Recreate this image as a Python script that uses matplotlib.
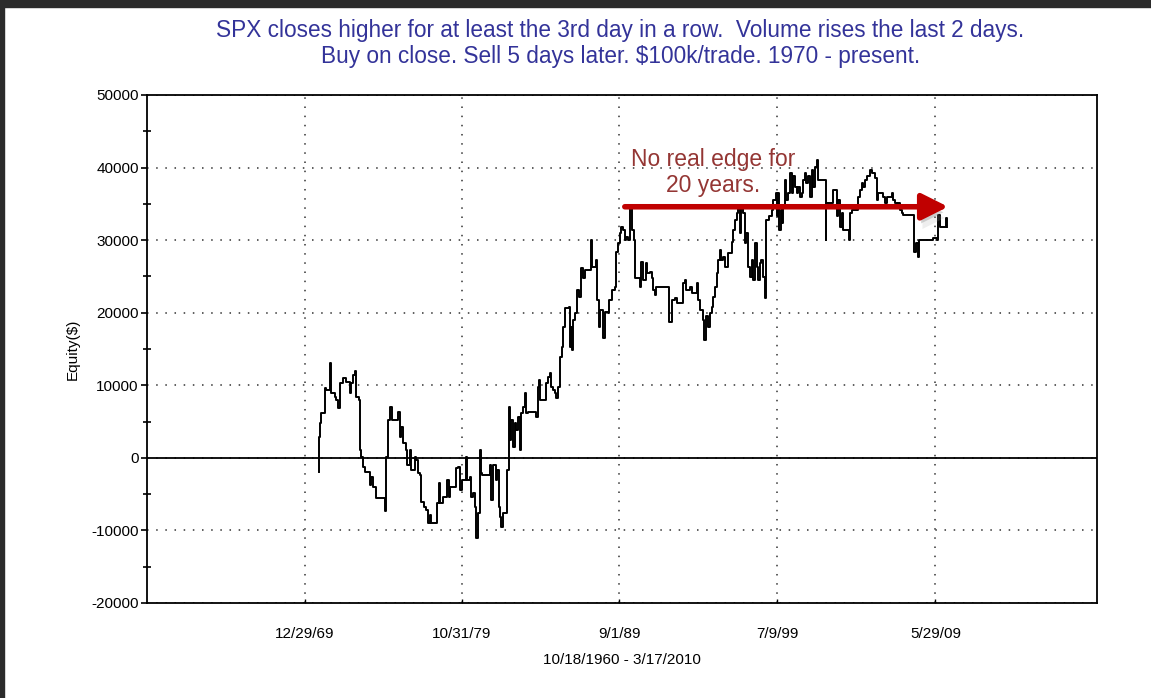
import datetime
import matplotlib
matplotlib.use("Agg")
import matplotlib.pyplot as plt
import matplotlib.patheffects as pe
from matplotlib.patches import Rectangle
from matplotlib.ticker import MultipleLocator

plt.rcParams['font.family'] = ['Liberation Sans', 'DejaVu Sans']
plt.rcParams['axes.unicode_minus'] = False

# equity curve (decimal year, equity $)
years = [1970.87, 1970.88, 1970.94, 1971.04, 1971.25, 1971.35, 1971.60, 1971.67, 1971.88, 1971.98,
         1972.08, 1972.19, 1972.40, 1972.60, 1972.81, 1972.92, 1973.02, 1973.17, 1973.23, 1973.40,
         1973.44, 1973.54, 1973.65, 1973.75, 1974.06, 1974.17, 1974.27, 1974.44, 1975.00, 1975.06,
         1975.10, 1975.21, 1975.35, 1975.44, 1975.83, 1975.94, 1976.04, 1976.15, 1976.31, 1976.40,
         1976.56, 1976.67, 1976.88, 1976.98, 1977.08, 1977.19, 1977.29, 1977.44, 1977.56, 1977.71,
         1977.81, 1977.92, 1978.27, 1978.38, 1978.48, 1978.65, 1978.90, 1979.02, 1979.06, 1979.44,
         1979.58, 1979.69, 1979.85, 1980.10, 1980.17, 1980.31, 1980.42, 1980.52, 1980.63, 1980.69,
         1980.83, 1980.94, 1981.04, 1981.10, 1981.56, 1981.67, 1981.77, 1981.94, 1982.02, 1982.15,
         1982.23, 1982.29, 1982.40, 1982.65, 1982.75, 1982.81, 1982.92, 1983.02, 1983.13, 1983.23,
         1983.33, 1983.44, 1983.50, 1983.65, 1983.75, 1983.85, 1983.96, 1984.44, 1984.58, 1984.65,
         1984.69, 1985.06, 1985.21, 1985.31, 1985.42, 1985.52, 1985.63, 1985.73, 1985.83, 1985.94,
         1985.98, 1986.10, 1986.15, 1986.25, 1986.50, 1986.56, 1986.67, 1986.73, 1986.77, 1986.88,
         1987.02, 1987.15, 1987.29, 1987.40, 1987.50, 1987.88, 1987.98, 1988.23, 1988.27, 1988.40,
         1988.48, 1988.65, 1988.75, 1988.96, 1989.02, 1989.17, 1989.38, 1989.48, 1989.58, 1989.69,
         1989.79, 1989.90, 1990.00, 1990.10, 1990.21, 1990.35, 1990.48, 1990.56, 1990.63, 1990.94,
         1991.04, 1991.15, 1991.31, 1991.40, 1991.56, 1991.67, 1991.77, 1991.88, 1991.98, 1992.77,
         1992.92, 1993.13, 1993.23, 1993.65, 1993.75, 1993.85, 1994.06, 1994.17, 1994.48, 1994.58,
         1994.69, 1994.90, 1994.96, 1995.06, 1995.21, 1995.31, 1995.42, 1995.52, 1995.63, 1995.73,
         1995.83, 1995.94, 1996.04, 1996.15, 1996.25, 1996.46, 1996.67, 1996.77, 1996.88, 1996.98,
         1997.08, 1997.19, 1997.29, 1997.40, 1997.50, 1997.60, 1997.71, 1997.81, 1997.92, 1998.02,
         1998.13, 1998.23, 1998.33, 1998.44, 1998.54, 1998.65, 1998.75, 1998.81, 1998.85, 1999.02,
         1999.17, 1999.27, 1999.44, 1999.52, 1999.58, 1999.65, 1999.73, 1999.79, 1999.90, 2000.00,
         2000.10, 2000.21, 2000.35, 2000.46, 2000.52, 2000.63, 2000.73, 2000.83, 2000.94, 2001.04,
         2001.15, 2001.25, 2001.35, 2001.46, 2001.56, 2001.67, 2001.77, 2001.88, 2001.98, 2002.08,
         2002.54, 2002.60, 2002.98, 2003.23, 2003.33, 2003.44, 2003.54, 2003.65, 2004.02, 2004.06,
         2004.17, 2004.58, 2004.69, 2004.79, 2004.90, 2005.00, 2005.10, 2005.31, 2005.42, 2005.63,
         2005.73, 2005.83, 2006.15, 2006.25, 2006.35, 2006.67, 2006.77, 2006.88, 2006.98, 2007.08,
         2007.19, 2007.29, 2007.40, 2008.06, 2008.19, 2008.33, 2008.40, 2009.27, 2009.52, 2009.58,
         2009.69, 2010.06, 2010.10]
equity = [-1890, 2940, 4780, 6160, 9600, 9370, 13050, 8910, 8450, 7990,
          6840, 10290, 10980, 10520, 8910, 10290, 11440, 12030, 8450, 7990,
          1100, 180, -1200, -1890, -3720, -2570, -3950, -5560, -7390, -5330,
          180, 5240, 7070, 5240, 6380, 2940, 4310, 2020, 1100, -960,
          1100, -1650, 180, -280, -2110, -2340, -6020, -6710, -7170, -9000,
          -7850, -9000, -6250, -3490, -6250, -5330, -3030, -5330, -3950, -1420,
          -1200, -4410, -3030, 180, -3030, -2570, -5330, -4870, -6710, -11070,
          -7620, 1100, -2110, -2340, -960, -5790, -960, -3030, -1650, -6710,
          -8090, -9470, -7620, -1650, 7070, 2480, 5240, 1560, 4780, 3860,
          5690, 1100, 6160, 7070, 8910, 6160, 6380, 5690, 9830, 10750,
          7990, 10290, 11200, 11670, 9830, 9370, 8910, 8230, 9830, 10750,
          13960, 15340, 18090, 20630, 20850, 15340, 18090, 14880, 19020, 19940,
          23150, 22230, 26140, 24760, 25910, 30040, 26360, 27280, 21770, 18090,
          20390, 16490, 20160, 19940, 21770, 23150, 23610, 28430, 29580, 30960,
          31870, 31420, 30040, 30500, 30040, 34410, 31420, 30040, 24760, 23610,
          27050, 24530, 26830, 25450, 25670, 24760, 23150, 22460, 23610, 18780,
          21770, 22000, 21310, 24070, 24530, 23150, 23610, 22690, 24070, 21770,
          20390, 19020, 16260, 19480, 18090, 19940, 20850, 22230, 23610, 25450,
          27280, 28660, 27280, 27740, 26360, 28200, 29810, 31420, 32800, 33720,
          34410, 30960, 34410, 33720, 29580, 30960, 26360, 24990, 27280, 24530,
          29580, 26360, 24530, 26830, 27280, 24990, 22000, 29120, 32800, 33260,
          34180, 35550, 36480, 33260, 36480, 31420, 34180, 32340, 34630, 38310,
          35550, 36480, 39230, 36480, 38770, 37390, 36480, 37390, 36010, 36480,
          38310, 39230, 37850, 38770, 36010, 39690, 37390, 40140, 41060, 38310,
          30040, 35100, 36930, 33260, 35550, 31870, 33720, 31420, 30040, 33720,
          34180, 36010, 36930, 37850, 37390, 38310, 38770, 39690, 39230, 38540,
          35550, 36480, 36010, 35100, 36010, 36480, 35550, 35100, 34630, 35100,
          34180, 33720, 33490, 28430, 29580, 27740, 30040, 30270, 30040, 33490,
          31870, 33030, 31870]

tick_labels = ['12/29/69', '10/31/79', '9/1/89', '7/9/99', '5/29/09']


def dec_year(s):
    d = datetime.datetime.strptime(s, '%m/%d/%y')
    start = datetime.datetime(d.year, 1, 1)
    return d.year + (d - start).days / 365.25


tick_pos = [dec_year(s) for s in tick_labels]

fig = plt.figure(figsize=(11.51, 6.98), dpi=100)
ax = fig.add_axes([147/1151, 1-603/698, 950/1151, 508/698])

ax.step(years, equity, where='post', color='black', lw=1.4)
ax.axhline(0, color='black', lw=1.3)

ax.set_xlim(1960.15, 2019.5)
ax.set_ylim(-20000, 50000)
ax.yaxis.set_major_locator(MultipleLocator(10000))
ax.yaxis.set_minor_locator(MultipleLocator(5000))
ax.set_xticks(tick_pos)
ax.set_xticklabels(tick_labels)
ax.grid(True, color='#333333', lw=1.1, linestyle=(0, (1, 5)))
ax.tick_params(axis='y', which='major', direction='out', length=4, width=1.2, labelsize=11, pad=2)
ax.tick_params(axis='y', which='minor', direction='inout', length=6, width=1.2)
ax.tick_params(axis='x', direction='in', length=3, width=1, labelsize=11, pad=17)
for s in ax.spines.values():
    s.set_linewidth(1.3)

ax.set_ylabel('Equity($)', fontsize=11, labelpad=8)
ax.set_xlabel('10/18/1960 - 3/17/2010', fontsize=11, labelpad=9)

# red arrow with a soft grey shadow
ax.annotate('', xy=(2010.2, 34600), xytext=(1990.0, 34600),
            arrowprops=dict(arrowstyle='-|>,head_length=1.6,head_width=0.8',
                            lw=4, color='#C00000', shrinkA=0, shrinkB=0,
                            path_effects=[pe.SimplePatchShadow(offset=(1, -4), shadow_rgbFace='#888888', alpha=0.35),
                                          pe.SimplePatchShadow(offset=(2, -8), shadow_rgbFace='#aaaaaa', alpha=0.2),
                                          pe.Normal()]))
ax.text(1995.5, 39300, 'No real edge for\n20 years.', color='#943634', fontsize=16.5,
        ha='center', va='center', linespacing=1.15)

fig.text(0.539, 1-31/698, 'SPX closes higher for at least the 3rd day in a row.  Volume rises the last 2 days.',
         ha='center', va='center', fontsize=16.3, color='#333399')
fig.text(0.539, 1-57/698, 'Buy on close. Sell 5 days later. $100k/trade. 1970 - present.',
         ha='center', va='center', fontsize=16.3, color='#333399')

# screenshot frame
fig.add_artist(Rectangle((0, 1-7/698), 1, 7/698, transform=fig.transFigure, color='#2b2b2b'))
fig.add_artist(Rectangle((0, 0), 4/1151, 1, transform=fig.transFigure, color='#2b2b2b'))

fig.savefig('out.png', dpi=100)
